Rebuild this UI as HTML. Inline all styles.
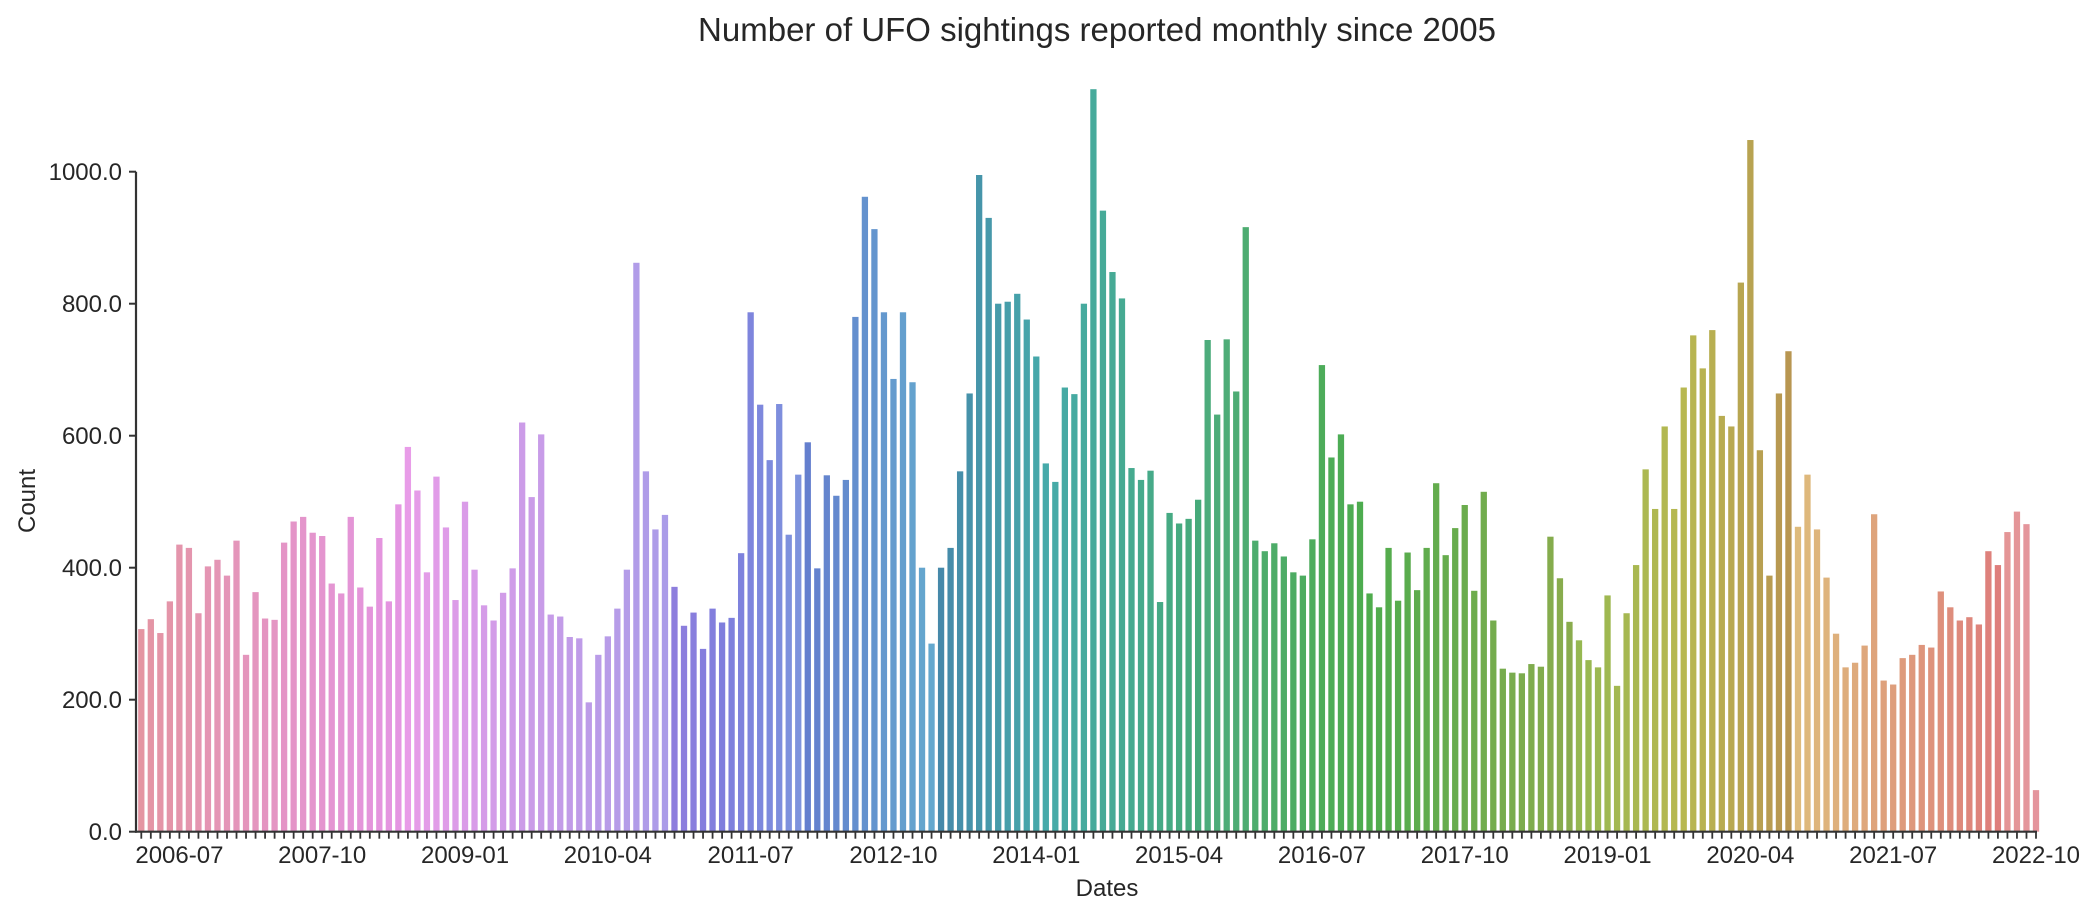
<!DOCTYPE html>
<html><head><meta charset="utf-8">
<style>
html,body{margin:0;padding:0;background:#fff;}
svg{display:block;font-family:"Liberation Sans",sans-serif;}
</style></head>
<body>
<svg id="chart" width="2100" height="915" viewBox="0 0 2100 915" xmlns="http://www.w3.org/2000/svg">
<text x="1097" y="41" font-size="33" text-anchor="middle" fill="#262626">Number of UFO sightings reported monthly since 2005</text>
<text transform="translate(35,501) rotate(-90)" font-size="24" text-anchor="middle" fill="#262626">Count</text>
<text x="1107" y="896" font-size="24" text-anchor="middle" fill="#262626">Dates</text>
<g id="bars"></g>
<g id="yaxis"></g>
<g id="xaxis"></g>
</svg>
<script>
const startYear = 2006, startMonth = 3;
const values = [
307,322,301,349,435,430,331,402,412,388,
441,268,363,323,321,438,470,477,453,448,
376,361,477,370,341,445,349,496,583,517,
393,538,461,351,500,397,343,320,362,399,
620,507,602,329,326,295,293,196,268,296,
338,397,862,546,458,480,371,312,332,277,
338,317,324,422,787,647,563,648,450,541,
590,399,540,509,533,780,962,913,787,686,
787,681,400,285,400,430,546,664,995,930,
800,803,815,776,720,558,530,673,663,800,
1125,941,848,808,551,533,547,348,483,467,
474,503,745,632,746,667,916,441,425,437,
417,393,388,443,707,567,602,496,500,361,
340,430,350,423,366,430,528,419,460,495,
365,515,320,247,241,240,254,250,447,384,
318,290,260,249,358,221,331,404,549,489,
614,489,673,752,702,760,630,614,832,1048,
578,388,664,728,462,541,458,385,300,249,
256,282,481,229,223,263,268,283,279,364,
340,320,325,314,425,404,454,485,466,63];
const yTicks = [0,200,400,600,800,1000];
const labelEvery = 15, labelOffset = 4;

const NS = "http://www.w3.org/2000/svg";
const x0 = 141.3, x1 = 2036, yZero = 831.7, pxPerUnit = 0.66;
const n = values.length;
const step = (x1 - x0) / (n - 1);
const xs = i => x0 + i * step;
const ys = v => yZero - v * pxPerUnit;
function mk(tag, attrs){const e=document.createElementNS(NS,tag);for(const k in attrs)e.setAttribute(k,attrs[k]);return e;}
const cats = values.map((_, i) => {const m = startMonth - 1 + i; const y = startYear + Math.floor(m/12); return y + "-" + String(m%12+1).padStart(2,"0");});

function colorFor(hue){
  let s = 60, l = 74;
  if (hue >= 250 && hue < 300) { s = 62; l = 76; }
  else if (hue >= 225 && hue < 250) { s = 58; l = 68; }
  else if (hue >= 200 && hue < 225) { s = 52; l = 60; }
  else if (hue >= 150 && hue < 200) { s = 42; l = 47; }
  else if (hue >= 80 && hue < 150) { s = 38; l = 49; }
  else if (hue >= 40 && hue < 80) { s = 42; l = 52; }
  else if (hue < 40) { s = 60; l = 68; }
  return `hsl(${hue},${s}%,${l}%)`;
}

const bars = document.getElementById("bars");
const bw = step * 0.66;
values.forEach((v, i) => {
  const h = 350 - 358 * i / n;
  const hue = ((h % 360) + 360) % 360;
  const r = mk("rect", {x: xs(i) - bw/2, y: ys(v), width: bw, height: yZero - ys(v), fill: colorFor(hue)});
  
  
  bars.appendChild(r);
});

const ya = document.getElementById("yaxis");
const sp = mk("line", {x1:136, y1:ys(1000), x2:136, y2:yZero+1, stroke:"#333", "stroke-width":2.2});


ya.appendChild(sp);
yTicks.forEach(t => {
  const y = ys(t);
  const tk = mk("line", {x1:129, y1:y, x2:136, y2:y, stroke:"#333", "stroke-width":2});
  
  
  ya.appendChild(tk);
  const tx = mk("text", {x:122, y:y+8.5, "font-size":24, "text-anchor":"end", fill:"#262626"});
  tx.textContent = t.toFixed(1);
  
  
  ya.appendChild(tx);
});

const xa = document.getElementById("xaxis");
const xs2 = mk("line", {x1:135, y1:yZero, x2:x1+1, y2:yZero, stroke:"#333", "stroke-width":2.2});


xa.appendChild(xs2);
values.forEach((_, i) => {
  const tk = mk("line", {x1:xs(i), y1:yZero, x2:xs(i), y2:yZero+7, stroke:"#333", "stroke-width":1.8});
  
  
  xa.appendChild(tk);
  if ((i - labelOffset) % labelEvery === 0 && i >= labelOffset) {
    const tx = mk("text", {x:xs(i), y:863, "font-size":24, "text-anchor":"middle", fill:"#262626"});
    tx.textContent = cats[i];
    
    
    xa.appendChild(tx);
  }
});
</script>
</body></html>
